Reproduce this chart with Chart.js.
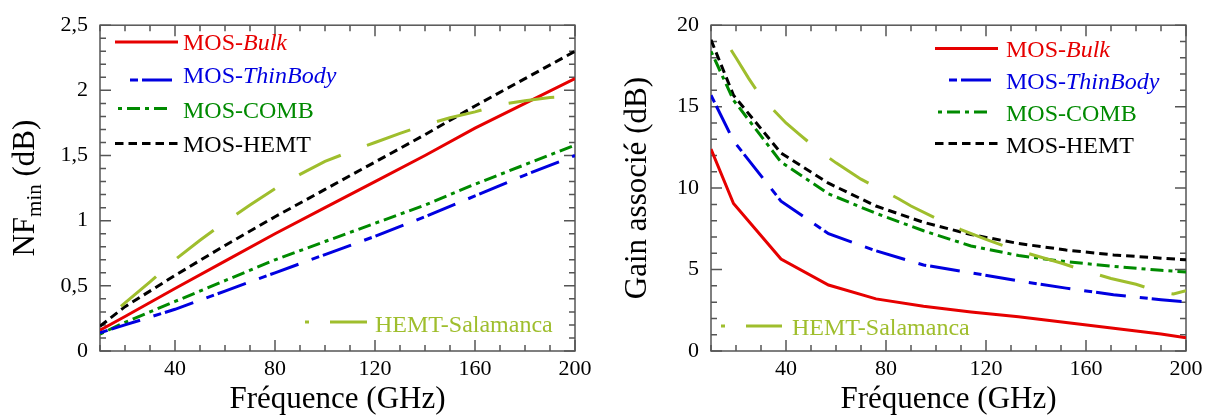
<!DOCTYPE html>
<html>
<head>
<meta charset="utf-8">
<script src="https://cdn.jsdelivr.net/npm/chart.js@4/dist/chart.umd.min.js"></script>
<style>
body { margin: 0; background: #fff; }
#wrap { display: flex; width: 1210px; height: 416px; }
canvas { display: block; }
</style>
</head>
<body>
<div id="wrap">
  <canvas id="nfgraph" width="605" height="416"></canvas>
  <canvas id="gaingraph" width="605" height="416"></canvas>
</div>
<script>
// ---- data ----
var nfFreq = [10, 20, 40, 60, 80, 100, 120, 140, 160, 180, 200];
var nfBulk = [0.16, 0.265, 0.48, 0.69, 0.90, 1.10, 1.30, 1.50, 1.71, 1.90, 2.09];
var nfThin = [0.14, 0.20, 0.32, 0.46, 0.60, 0.74, 0.88, 1.03, 1.19, 1.35, 1.50];
var nfComb = [0.13, 0.22, 0.38, 0.54, 0.70, 0.84, 0.98, 1.12, 1.28, 1.43, 1.58];
var nfHemt = [0.19, 0.34, 0.58, 0.81, 1.03, 1.24, 1.45, 1.66, 1.88, 2.09, 2.30];
var salaFreqNF = [10, 20, 30, 40, 50, 60, 70, 80, 90, 100, 110, 120, 130, 140, 150, 160, 170, 180, 190, 195];
var salaNF = [0.20, 0.37, 0.53, 0.70, 0.85, 0.99, 1.12, 1.245, 1.355, 1.455, 1.53, 1.60, 1.67, 1.735, 1.79, 1.835, 1.89, 1.92, 1.945, 1.95];

var gainFreq = [10, 19, 38, 57, 76, 95, 114, 133, 152, 171, 190, 200];
var gBulk = [12.4, 9.05, 5.65, 4.05, 3.2, 2.75, 2.4, 2.1, 1.75, 1.4, 1.05, 0.82];
var gThin = [15.7, 12.9, 9.2, 7.2, 6.15, 5.28, 4.8, 4.3, 3.86, 3.45, 3.15, 3.02];
var gComb = [18.4, 15.4, 11.6, 9.65, 8.45, 7.38, 6.45, 5.86, 5.48, 5.2, 4.95, 4.85];
var gHemt = [19.1, 15.7, 12.15, 10.3, 8.9, 7.9, 7.15, 6.6, 6.2, 5.9, 5.7, 5.6];
var salaFreqG = [13, 15, 20, 25, 30, 35, 40, 45, 50, 55, 60, 65, 70, 75, 80, 85, 90, 100, 110, 120, 130, 140, 150, 160, 170, 180, 190, 195, 200];
var salaG = [20.0, 19.2, 18.0, 16.75, 15.6, 14.8, 14.0, 13.35, 12.7, 12.1, 11.55, 11.05, 10.55, 10.15, 9.75, 9.35, 8.9, 8.15, 7.45, 6.85, 6.3, 5.85, 5.4, 4.9, 4.45, 4.1, 3.6, 3.5, 3.7];

var freqTicks = [40, 80, 120, 160, 200];
var nfTicks = [0, 0.5, 1, 1.5, 2, 2.5];
var gainTicks = [0, 5, 10, 15, 20];

// ---- styles ----
var FONT = '"Liberation Serif", "Times New Roman", serif';
var RED = '#e60000', BLUE = '#0000e0', GREEN = '#008a00', BLACK = '#000000', OLIVE = '#9fbe2d';
var DASH_THIN = [8, 4, 30, 14];
var DASH_COMB = [4, 5, 13, 5];
var DASH_HEMT = [8.5, 5];
var DASH_SALA = [46, 28];

function pts(xs, ys) {
    return xs.map(function (f, i) { return { x: f, y: ys[i] }; });
}

function line(xs, ys, color, dash, offset) {
    return {
        data: pts(xs, ys),
        borderColor: color,
        borderWidth: 3,
        borderDash: dash,
        borderDashOffset: offset || 0,
        borderCapStyle: 'butt',
        pointRadius: 0,
        tension: 0,
        fill: false
    };
}

// frame + inward tick marks on all four sides
var frameTicks = {
    id: 'frameTicks',
    beforeDatasetsDraw: function (chart, args, o) {
        var a = chart.chartArea, ctx = chart.ctx;
        var sx = chart.scales.x, sy = chart.scales.y;
        ctx.save();
        ctx.strokeStyle = '#555';
        ctx.lineWidth = 1.5;
        ctx.strokeRect(a.left, a.top, a.right - a.left, a.bottom - a.top);
        ctx.beginPath();
        var n = Math.round((sx.max - sx.min) / o.xStep);
        for (var i = 0; i <= n; i++) {
            var f = sx.min + i * o.xStep;
            var px = sx.getPixelForValue(f);
            var len = (f % o.xMajor === 0) ? 11 : 6;
            ctx.moveTo(px, a.bottom); ctx.lineTo(px, a.bottom - len);
            ctx.moveTo(px, a.top); ctx.lineTo(px, a.top + len);
        }
        n = Math.round((sy.max - sy.min) / o.yStep);
        for (var j = 0; j <= n; j++) {
            var v = sy.min + j * o.yStep;
            var py = sy.getPixelForValue(v);
            var r = v / o.yMajor;
            var ylen = Math.abs(r - Math.round(r)) < 1e-6 ? 11 : 6;
            ctx.moveTo(a.left, py); ctx.lineTo(a.left + ylen, py);
            ctx.moveTo(a.right, py); ctx.lineTo(a.right - ylen, py);
        }
        ctx.stroke();
        ctx.restore();
    }
};

// axis titles (the NF one needs a subscript)
var axisTitles = {
    id: 'axisTitles',
    afterDraw: function (chart, args, o) {
        var a = chart.chartArea, ctx = chart.ctx;
        ctx.save();
        ctx.fillStyle = '#000';
        ctx.textBaseline = 'alphabetic';
        ctx.font = o.size + 'px ' + FONT;
        ctx.textAlign = 'center';
        ctx.fillText(o.xText, (a.left + a.right) / 2, o.xBase);

        // y title, rotated, built from parts
        var parts = o.yParts;
        var w = 0;
        parts.forEach(function (p) {
            ctx.font = (p.sub ? o.subSize : o.size) + 'px ' + FONT;
            p.w = ctx.measureText(p.t).width;
            w += p.w;
        });
        ctx.translate(o.yBase, (a.top + a.bottom) / 2);
        ctx.rotate(-Math.PI / 2);
        ctx.textAlign = 'left';
        var x = -w / 2;
        parts.forEach(function (p) {
            ctx.font = (p.sub ? o.subSize : o.size) + 'px ' + FONT;
            ctx.fillText(p.t, x, p.sub ? 7 : 0);
            x += p.w;
        });
        ctx.restore();
    }
};

// legend drawn inside the plot, with italic parts
var legendBox = {
    id: 'legendBox',
    afterDatasetsDraw: function (chart, args, o) {
        var ctx = chart.ctx;
        ctx.save();
        o.items.forEach(function (it) {
            ctx.strokeStyle = it.color;
            ctx.lineWidth = 3;
            ctx.lineCap = 'butt';
            ctx.setLineDash(it.dash);
            ctx.beginPath();
            ctx.moveTo(it.x1, it.y);
            ctx.lineTo(it.x2, it.y);
            ctx.stroke();
            ctx.setLineDash([]);
            ctx.fillStyle = it.color;
            ctx.textBaseline = 'alphabetic';
            ctx.textAlign = 'left';
            var x = it.tx;
            it.parts.forEach(function (p) {
                ctx.font = (p.i ? 'italic ' : '') + '24px ' + FONT;
                ctx.fillText(p.t, x, it.base);
                x += ctx.measureText(p.t).width;
            });
        });
        ctx.restore();
    }
};

function scales(yMin, yMax, yTicks, yWidth, fmt) {
    return {
        x: {
            type: 'linear', min: 10, max: 200,
            afterBuildTicks: function (s) { s.ticks = freqTicks.map(function (v) { return { value: v }; }); },
            afterFit: function (s) { s.height = 65; },
            grid: { display: false, drawTicks: false },
            border: { display: false },
            ticks: { color: '#000', font: { family: FONT, size: 22 }, padding: 5, maxRotation: 0, autoSkip: false }
        },
        y: {
            type: 'linear', min: yMin, max: yMax,
            afterBuildTicks: function (s) { s.ticks = yTicks.map(function (v) { return { value: v }; }); },
            afterFit: function (s) { s.width = yWidth; },
            grid: { display: false, drawTicks: false },
            border: { display: false },
            ticks: { color: '#000', font: { family: FONT, size: 22 }, padding: 12, callback: fmt }
        }
    };
}

var nfChart = new Chart(document.getElementById('nfgraph'), {
    type: 'line',
    data: {
        datasets: [
            line(salaFreqNF, salaNF, OLIVE, DASH_SALA, 46),
            line(nfFreq, nfThin, BLUE, DASH_THIN),
            line(nfFreq, nfComb, GREEN, DASH_COMB),
            line(nfFreq, nfHemt, BLACK, DASH_HEMT),
            line(nfFreq, nfBulk, RED, [])
        ]
    },
    options: {
        responsive: false,
        animation: false,
        devicePixelRatio: 1,
        layout: { padding: { left: 0, top: 16, right: 30, bottom: 0 } },
        scales: scales(0, 2.5, nfTicks, 100, function (v) { return String(v).replace('.', ','); }),
        plugins: {
            legend: { display: false },
            tooltip: { enabled: false },
            frameTicks: { xStep: 10, xMajor: 40, yStep: 0.1, yMajor: 0.5 },
            axisTitles: {
                size: 31, subSize: 21, xText: 'Fréquence (GHz)', xBase: 408, yBase: 34,
                yParts: [{ t: 'NF' }, { t: 'min', sub: true }, { t: ' (dB)' }]
            },
            legendBox: {
                items: [
                    { color: RED, dash: [], x1: 115, x2: 178, y: 42, tx: 183, base: 49.5, parts: [{ t: 'MOS-' }, { t: 'Bulk', i: true }] },
                    { color: BLUE, dash: DASH_THIN, x1: 130, x2: 176, y: 80, tx: 183, base: 83, parts: [{ t: 'MOS-' }, { t: 'ThinBody', i: true }] },
                    { color: GREEN, dash: DASH_COMB, x1: 118, x2: 168, y: 108.5, tx: 183, base: 117.5, parts: [{ t: 'MOS-COMB' }] },
                    { color: BLACK, dash: DASH_HEMT, x1: 115, x2: 178, y: 143.5, tx: 183, base: 152, parts: [{ t: 'MOS-HEMT' }] },
                    { color: OLIVE, dash: [4, 21, 40], x1: 305, x2: 367, y: 322, tx: 375, base: 332, parts: [{ t: 'HEMT-Salamanca' }] }
                ]
            }
        }
    },
    plugins: [frameTicks, axisTitles, legendBox]
});

var gainChart = new Chart(document.getElementById('gaingraph'), {
    type: 'line',
    data: {
        datasets: [
            line(salaFreqG, salaG, OLIVE, DASH_SALA, 46),
            line(gainFreq, gThin, BLUE, DASH_THIN),
            line(gainFreq, gComb, GREEN, DASH_COMB),
            line(gainFreq, gHemt, BLACK, DASH_HEMT),
            line(gainFreq, gBulk, RED, [])
        ]
    },
    options: {
        responsive: false,
        animation: false,
        devicePixelRatio: 1,
        layout: { padding: { left: 0, top: 16, right: 24, bottom: 0 } },
        scales: scales(0, 20, gainTicks, 106, function (v) { return String(v); }),
        plugins: {
            legend: { display: false },
            tooltip: { enabled: false },
            frameTicks: { xStep: 10, xMajor: 40, yStep: 1, yMajor: 5 },
            axisTitles: {
                size: 31, subSize: 21, xText: 'Fréquence (GHz)', xBase: 408, yBase: 41,
                yParts: [{ t: 'Gain associé (dB)' }]
            },
            legendBox: {
                items: [
                    { color: RED, dash: [], x1: 330, x2: 393, y: 48.5, tx: 401, base: 56.5, parts: [{ t: 'MOS-' }, { t: 'Bulk', i: true }] },
                    { color: BLUE, dash: DASH_THIN, x1: 344, x2: 390, y: 80, tx: 401, base: 89, parts: [{ t: 'MOS-' }, { t: 'ThinBody', i: true }] },
                    { color: GREEN, dash: DASH_COMB, x1: 333, x2: 383, y: 112, tx: 401, base: 121, parts: [{ t: 'MOS-COMB' }] },
                    { color: BLACK, dash: DASH_HEMT, x1: 330, x2: 393, y: 143.5, tx: 401, base: 152.5, parts: [{ t: 'MOS-HEMT' }] },
                    { color: OLIVE, dash: [4, 21, 40], x1: 116, x2: 177, y: 326, tx: 187, base: 335, parts: [{ t: 'HEMT-Salamanca' }] }
                ]
            }
        }
    },
    plugins: [frameTicks, axisTitles, legendBox]
});
</script>
</body>
</html>
